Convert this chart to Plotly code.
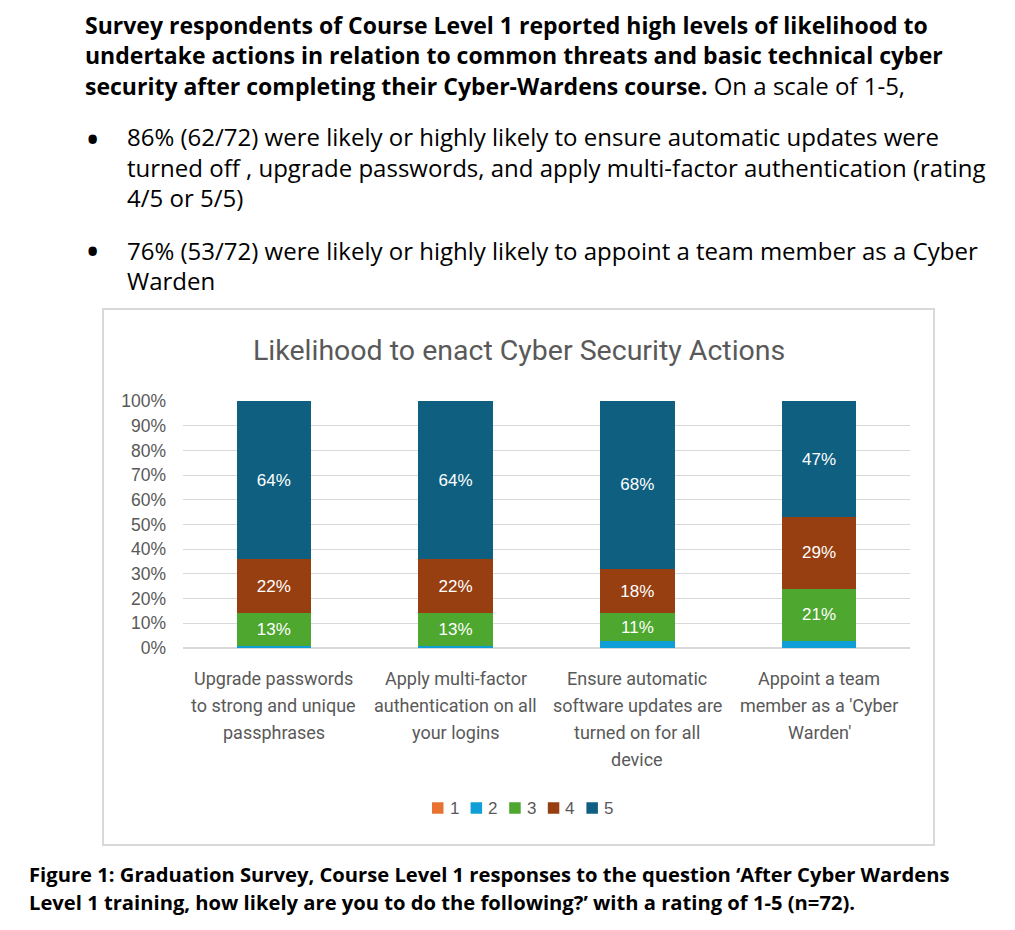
import plotly.graph_objects as go

# ---------------- data ----------------
categories = ["Upgrade passwords", "Apply multi-factor", "Ensure automatic", "Appoint a team"]
category_lines = [
    ["Upgrade passwords", "to strong and unique", "passphrases"],
    ["Apply multi-factor", "authentication on all", "your logins"],
    ["Ensure automatic", "software updates are", "turned on for all", "device"],
    ["Appoint a team", "member as a 'Cyber", "Warden'"],
]
series_names = ["1", "2", "3", "4", "5"]
rating_1 = [0, 0, 0, 0]
rating_2 = [1, 1, 3, 3]
rating_3 = [13, 13, 11, 21]
rating_4 = [22, 22, 18, 29]
rating_5 = [64, 64, 68, 47]
series_values = [rating_1, rating_2, rating_3, rating_4, rating_5]
show_labels = [False, False, True, True, True]
y_ticks = [0, 10, 20, 30, 40, 50, 60, 70, 80, 90, 100]
y_tick_labels = [f"{v}%" for v in y_ticks]

colors = ["#E97132", "#0F9ED5", "#4EA72E", "#983F11", "#0E5F80"]

# ---------------- geometry (pixels) ----------------
W, H = 1015, 930
ML, MR, MT, MB = 183, 910, 401, 648
PW, PH = MR - ML, MB - MT

def px(x):
    return (x - ML) / PW

def py(y):
    return 1 - (y - MT) / PH

GRAY = "#595959"

fig = go.Figure()
for name, vals, lab, col in zip(series_names, series_values, show_labels, colors):
    fig.add_trace(go.Bar(
        name=name,
        x=categories,
        y=vals,
        marker=dict(color=col, line=dict(width=0)),
        text=[f"{v}%" for v in vals] if lab else None,
        textposition="inside" if lab else "none",
        insidetextanchor="middle",
        textangle=0,
        textfont=dict(color="white", size=17, family="Liberation Sans"),
        hoverinfo="skip",
        showlegend=False,
    ))

annotations = []
shapes = []

# header text
bold_font = dict(family="Open Sans", size=23, color="black")
reg_font = dict(family="Open Sans", size=24, color="black")
header_lines = [
    (83, 25, "<b>Survey respondents of Course Level 1 reported high levels of likelihood to</b>", bold_font),
    (83, 55, "<b>undertake actions in relation to common threats and basic technical cyber</b>", bold_font),
    (83, 85, "<b>security after completing their Cyber-Wardens course.</b>"
             "<span style='font-size:24px'> On a scale of 1-5,</span>", bold_font),
    (125, 137, "86% (62/72) were likely or highly likely to ensure automatic updates were", reg_font),
    (125, 167, "turned off , upgrade passwords, and apply multi-factor authentication (rating", reg_font),
    (125, 197, "4/5 or 5/5)", reg_font),
    (125, 250, "76% (53/72) were likely or highly likely to appoint a team member as a Cyber", reg_font),
    (125, 280, "Warden", reg_font),
]
for x, y, t, f in header_lines:
    annotations.append(dict(x=px(x), y=py(y), xref="paper", yref="paper", text=t,
                            showarrow=False, xanchor="left", yanchor="middle",
                            font=f))
for y in (138, 250):
    annotations.append(dict(x=px(92), y=py(y), xref="paper", yref="paper", text="<b>•</b>",
                            showarrow=False, xanchor="center", yanchor="middle",
                            font=dict(family="Open Sans", size=30, color="black")))

# caption
cap_font = dict(family="Open Sans", size=20.2, color="black")
for x, y, t in [
    (27, 874, "<b>Figure 1: Graduation Survey, Course Level 1 responses to the question ‘After Cyber Wardens</b>"),
    (27, 902, "<b>Level 1 training, how likely are you to do the following?’ with a rating of 1-5 (n=72).</b>"),
]:
    annotations.append(dict(x=px(x), y=py(y), xref="paper", yref="paper", text=t,
                            showarrow=False, xanchor="left", yanchor="middle",
                            font=cap_font))

# chart title
annotations.append(dict(x=px(519), y=py(350), xref="paper", yref="paper",
                        text="Likelihood to enact Cyber Security Actions",
                        showarrow=False, xanchor="center", yanchor="middle",
                        font=dict(family="Roboto", size=28.5, color=GRAY)))

# category labels (multi-line with wide spacing)
for cat, lines in zip(categories, category_lines):
    for i, line in enumerate(lines):
        annotations.append(dict(x=cat, y=py(678 + 27 * i), xref="x", yref="paper",
                                text=line, showarrow=False, xanchor="center",
                                yanchor="middle",
                                font=dict(family="Roboto", size=18, color=GRAY)))

# compact legend (Excel style)
LEG_X0, LEG_STEP, LEG_Y, SQ = 432, 38.6, 808, 11.5
for i, (name, col) in enumerate(zip(series_names, colors)):
    x0 = LEG_X0 + LEG_STEP * i
    shapes.append(dict(type="rect", xref="paper", yref="paper",
                       x0=px(x0), x1=px(x0 + SQ), y0=py(LEG_Y + SQ / 2), y1=py(LEG_Y - SQ / 2),
                       line=dict(width=0), fillcolor=col))
    annotations.append(dict(x=px(x0 + SQ + 4), y=py(LEG_Y), xref="paper", yref="paper",
                            text=name, showarrow=False, xanchor="left", yanchor="middle",
                            font=dict(family="Liberation Sans", size=17, color=GRAY)))

shapes.append(dict(type="rect", xref="paper", yref="paper",
                   x0=px(103), x1=px(934), y0=py(309), y1=py(845),
                   line=dict(color="#D9D9D9", width=2), fillcolor="rgba(0,0,0,0)",
                   layer="below"))

fig.update_layout(
    width=W, height=H,
    margin=dict(l=ML, r=W - MR, t=MT, b=H - MB, pad=0),
    paper_bgcolor="white", plot_bgcolor="white",
    barmode="stack",
    bargap=0.59,
    showlegend=False,
    xaxis=dict(showticklabels=False, showgrid=False, showline=False, zeroline=False,
               ticks=""),
    yaxis=dict(range=[0, 100], tickvals=y_ticks, ticktext=y_tick_labels,
               showgrid=True, gridcolor="#D9D9D9", gridwidth=1,
               zeroline=True, zerolinecolor="#D9D9D9", zerolinewidth=2,
               showline=False, ticks="", ticklabelstandoff=16,
               tickfont=dict(family="Liberation Sans", size=17.5, color=GRAY)),
    annotations=annotations,
    shapes=shapes,
    font=dict(family="Liberation Sans"),
)

fig.write_html("out.html")
